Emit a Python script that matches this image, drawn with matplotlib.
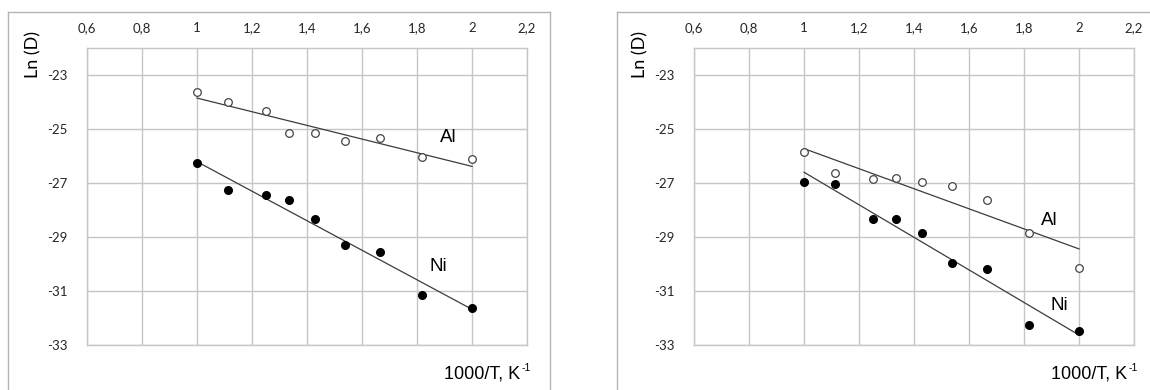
import numpy as np
import matplotlib
matplotlib.use("Agg")
import matplotlib.pyplot as plt
from matplotlib.lines import Line2D

plt.rcParams['font.family'] = ['Liberation Sans', 'DejaVu Sans']

# ---- data ----
inv_T = [1.0, 1.111, 1.25, 1.333, 1.429, 1.538, 1.667, 1.818, 2.0]

left_al = [-23.64, -23.99, -24.33, -25.13, -25.13, -25.45, -25.34, -26.05, -26.12]
left_ni = [-26.26, -27.25, -27.46, -27.64, -28.33, -29.28, -29.55, -31.15, -31.64]

right_al = [-25.87, -26.64, -26.87, -26.81, -26.98, -27.12, -27.63, -28.86, -30.16]
right_ni = [-26.96, -27.05, -28.33, -28.33, -28.86, -29.97, -30.17, -32.26, -32.47]

x_ticks = [0.6, 0.8, 1.0, 1.2, 1.4, 1.6, 1.8, 2.0, 2.2]
x_ticklabels = ["0,6", "0,8", "1", "1,2", "1,4", "1,6", "1,8", "2", "2,2"]
y_ticks = [-33, -31, -29, -27, -25, -23]
y_ticklabels = ["-33", "-31", "-29", "-27", "-25", "-23"]

panels = [
    dict(al=left_al, ni=left_ni, al_lbl=(1.912, -25.33), ni_lbl=(1.879, -30.11)),
    dict(al=right_al, ni=right_ni, al_lbl=(1.892, -28.39), ni_lbl=(1.929, -31.53)),
]

W, H = 1150, 390
fig = plt.figure(figsize=(W / 100, H / 100), dpi=100)

grid_col = "#c6c6c6"
frame_col = "#b4b4b4"
line_col = "#3c3c3c"

ax_lefts_px = [87, 694]
ax_w_px = 440
ax_top_px, ax_bot_px = 48, 345

# outer frames (chart area borders)
for (x0, x1) in [(8, 550), (617, 1160)]:
    for xs, ys in [([x0, x0], [12, 400]), ([x1, x1], [12, 400]), ([x0, x1], [12, 12])]:
        fig.add_artist(Line2D([v / W for v in xs], [1 - v / H for v in ys],
                              transform=fig.transFigure, color=frame_col, lw=1.0))

for left_px, p in zip(ax_lefts_px, panels):
    ax = fig.add_axes([left_px / W, 1 - ax_bot_px / H, ax_w_px / W, (ax_bot_px - ax_top_px) / H])
    ax.set_xlim(0.6, 2.2)
    ax.set_ylim(-33, -22)
    ax.set_xticks(x_ticks)
    ax.set_xticklabels(x_ticklabels, family=['Lato', 'DejaVu Sans'])
    ax.set_yticks(y_ticks)
    ax.set_yticklabels(y_ticklabels, family=['Lato', 'DejaVu Sans'])
    ax.xaxis.tick_top()
    ax.tick_params(axis='both', length=0, labelsize=9.5, colors="#262626")
    ax.tick_params(axis='x', pad=10)
    ax.tick_params(axis='y', pad=14)
    ax.grid(True, color=grid_col, lw=1.0)
    ax.set_axisbelow(True)
    for s in ax.spines.values():
        s.set_color(grid_col)
        s.set_linewidth(1.0)

    xs = np.array(inv_T)
    for ys in (p['al'], p['ni']):
        k, b = np.polyfit(xs, np.array(ys), 1)
        ax.plot([xs[0], xs[-1]], [k * xs[0] + b, k * xs[-1] + b], color=line_col, lw=0.9, zorder=3)

    ax.plot(inv_T, p['al'], 'o', ms=5.5, mfc='white', mec='#444444', mew=0.9, ls='none', zorder=4)
    ax.plot(inv_T, p['ni'], 'o', ms=5.5, mfc='black', mec='black', ls='none', zorder=4)

    ax.text(*p['al_lbl'], "Al", fontsize=13.5, ha='center', va='center', zorder=5)
    ax.text(*p['ni_lbl'], "Ni", fontsize=13.5, ha='center', va='center', zorder=5)

    ax.text(-0.123, 0.977, "Ln (D)", rotation=90, fontsize=13, ha='center', va='center',
            family=['Lato', 'DejaVu Sans'], transform=ax.transAxes)
    ax.text(0.984, -0.114, "1000/T, K", fontsize=13, ha='right', va='baseline',
            transform=ax.transAxes)
    ax.text(0.988, -0.060, "-1", fontsize=7.5, ha='left', va='top',
            transform=ax.transAxes)

fig.savefig("out.png", dpi=100, facecolor='white')
